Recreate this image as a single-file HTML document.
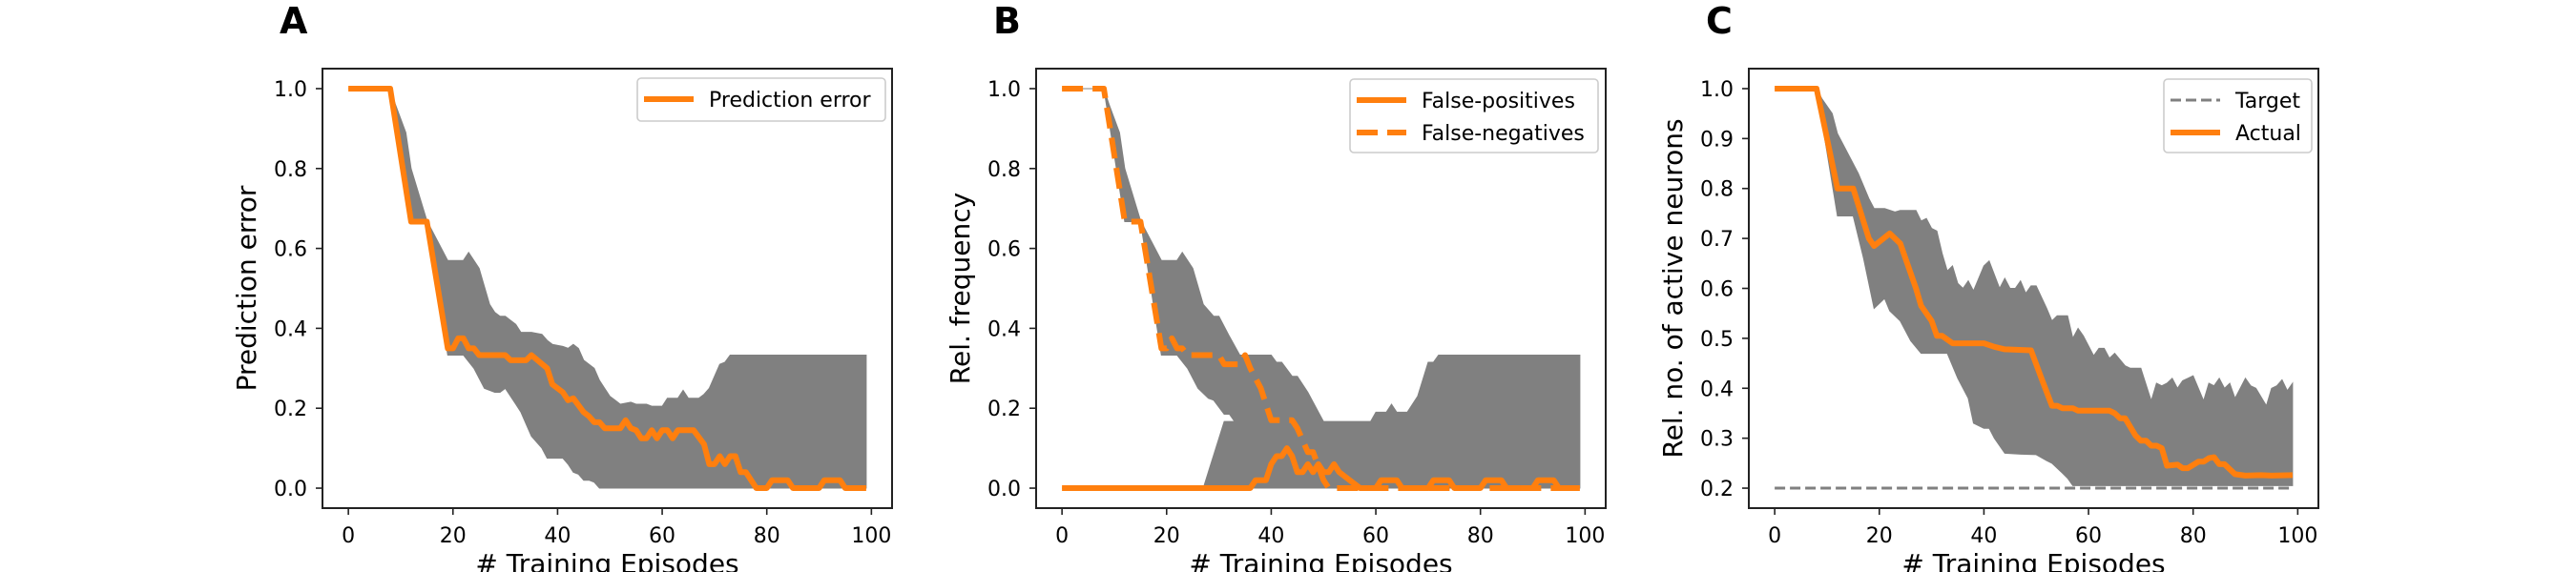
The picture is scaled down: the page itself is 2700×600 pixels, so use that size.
<!DOCTYPE html>
<html><head><meta charset="utf-8"><style>
html,body{margin:0;padding:0;background:#fff}
svg{display:block}
text{font-family:"DejaVu Sans","Liberation Sans",sans-serif;fill:#000}
</style></head><body>
<svg id="fig" width="2700" height="600" viewBox="0 0 2700 600" xmlns="http://www.w3.org/2000/svg"></svg>
<script>
// ---------- Panel A data ----------
const aMeanX=[0,8,12,15,19,20,21,22,23,24,25,30,31,34,35,38,39,41,42,43,45,46,47,48,49,52,53,54,55,56,57,58,59,60,61,62,63,66,68,69,70,71,72,73,74,75,76,78,80,81,84,85,90,91,94,95,99];
const aMeanY=[1,1,0.667,0.667,0.35,0.35,0.375,0.375,0.35,0.35,0.333,0.333,0.32,0.32,0.333,0.3,0.26,0.24,0.22,0.225,0.19,0.18,0.165,0.165,0.15,0.15,0.17,0.15,0.145,0.125,0.125,0.145,0.125,0.145,0.145,0.125,0.145,0.145,0.11,0.06,0.06,0.08,0.06,0.08,0.08,0.04,0.04,0,0,0.02,0.02,0,0,0.02,0.02,0,0];
const aHiX=[0,8,9,11,12,15,17,19,22,23,25,27,28,29,30,31,32,33,35,37,38,39,41,42,43,44,45,47,48,50,51,52,54,55,57,58,60,61,63,64,65,67,68,69,71,72,73,99];
const aHiY=[1,1,0.96,0.89,0.8,0.67,0.62,0.57,0.57,0.59,0.55,0.46,0.44,0.43,0.43,0.42,0.41,0.39,0.39,0.385,0.37,0.36,0.355,0.35,0.36,0.35,0.32,0.3,0.27,0.23,0.22,0.21,0.215,0.21,0.21,0.205,0.205,0.225,0.225,0.245,0.225,0.225,0.235,0.25,0.31,0.315,0.333,0.333];
const aLoX=[0,8,12,15,19,22,24,26,28,29,30,32,33,34,35,37,38,41,42,43,44,45,46,47,48,99];
const aLoY=[1,1,0.667,0.667,0.333,0.333,0.3,0.25,0.24,0.24,0.25,0.21,0.19,0.16,0.13,0.1,0.075,0.075,0.06,0.04,0.035,0.02,0.02,0.015,0,0];
// ---------- Panel B data ----------
const bFnX=[0,8,12,15,19,20,21,22,23,24,30,31,34,35,36,38,40,44,45,47,48,50,51,99];
const bFnY=[1,1,0.667,0.667,0.35,0.35,0.375,0.35,0.35,0.333,0.333,0.31,0.31,0.333,0.3,0.25,0.17,0.17,0.15,0.09,0.09,0.02,0,0];
const bFpX=[0,36,37,39,40,41,42,43,44,45,46,47,48,49,50,51,52,53,55,57,60,61,64,65,70,71,74,75,80,81,84,85,90,91,94,95,99];
const bFpY=[0,0,0.02,0.02,0.06,0.08,0.08,0.1,0.08,0.04,0.04,0.06,0.04,0.06,0.04,0.04,0.06,0.04,0.02,0,0,0.02,0.02,0,0,0.02,0.02,0,0,0.02,0.02,0,0,0.02,0.02,0,0];
const bFnHiX=[0,8,9,11,12,15,17,19,22,23,25,27,29,30,32,34,40,41,42,44,45,47,50,51,99];
const bFnHiY=[1,1,0.96,0.89,0.8,0.67,0.62,0.57,0.57,0.59,0.55,0.46,0.43,0.43,0.38,0.333,0.333,0.315,0.315,0.28,0.28,0.24,0.167,0,0];
const bFnLoX=[0,8,12,15,19,22,24,26,28,29,31,32,33,50,99];
const bFnLoY=[1,1,0.667,0.667,0.333,0.333,0.3,0.25,0.225,0.22,0.185,0.185,0.167,0,0];
const bFpHiX=[0,27,31,59,60,62,63,64,66,68,70,71,72,99];
const bFpHiY=[0,0,0.167,0.167,0.19,0.19,0.21,0.19,0.19,0.23,0.315,0.315,0.333,0.333];
const bFpLoX=[0,99];
const bFpLoY=[0,0];
// ---------- Panel C data ----------
const cMeanX=[0,8,12,15,18,19,22,24,26,27,28,30,31,32,34,40,42,44,49,51,53,54,55,57,58,64,65,66,67,69,70,71,72,73,74,75,77,78,79,81,82,83,84,85,86,88,90,93,95,99];
const cMeanY=[1,1,0.8,0.8,0.7,0.685,0.71,0.69,0.63,0.6,0.565,0.535,0.505,0.505,0.49,0.49,0.483,0.478,0.476,0.42,0.365,0.365,0.36,0.36,0.355,0.355,0.35,0.34,0.34,0.305,0.295,0.295,0.285,0.285,0.28,0.245,0.247,0.24,0.24,0.253,0.253,0.26,0.262,0.248,0.248,0.228,0.225,0.226,0.225,0.226];
const cHiX=[0,8,9,11,12,16,18,19,21,23,24,27,28,29,30,31,32,33,34,35,36,37,38,40,41,43,44,45,46,47,48,49,50,52,53,54,56,57,58,59,61,62,63,64,65,67,68,70,72,73,74,75,76,77,78,79,80,82,83,84,85,86,87,88,90,91,92,94,95,96,97,98,99];
const cHiY=[1,1,0.98,0.95,0.91,0.83,0.78,0.76,0.76,0.753,0.756,0.756,0.735,0.74,0.72,0.715,0.67,0.635,0.645,0.61,0.6,0.615,0.595,0.645,0.655,0.6,0.62,0.6,0.6,0.615,0.59,0.605,0.605,0.56,0.535,0.545,0.545,0.5,0.52,0.505,0.465,0.48,0.48,0.46,0.47,0.445,0.44,0.44,0.375,0.41,0.405,0.41,0.42,0.4,0.415,0.42,0.425,0.375,0.41,0.405,0.42,0.4,0.41,0.38,0.42,0.405,0.4,0.365,0.4,0.405,0.417,0.395,0.41];
const cLoX=[0,8,12,15,17,19,21,22,24,26,28,33,35,37,38,40,41,42,44,47,50,52,53,55,56,57,99];
const cLoY=[1,1,0.745,0.745,0.66,0.56,0.58,0.555,0.535,0.495,0.47,0.47,0.42,0.38,0.33,0.32,0.32,0.3,0.27,0.268,0.267,0.255,0.25,0.23,0.22,0.205,0.205];
const cTargetX=[0,99];
const cTargetY=[0.2,0.2];
// ---------- ticks ----------
const xTicks=[0,20,40,60,80,100];
const abYTicks=[0,0.2,0.4,0.6,0.8,1.0];
const abYTickLabels=["0.0","0.2","0.4","0.6","0.8","1.0"];
const cYTicks=[0.2,0.3,0.4,0.5,0.6,0.7,0.8,0.9,1.0];
const cYTickLabels=["0.2","0.3","0.4","0.5","0.6","0.7","0.8","0.9","1.0"];

const NS="http://www.w3.org/2000/svg";
const svg=document.getElementById('fig');
const ORANGE="#ff7f0e", GRAY="#808080";
function mk(tag,parent){const e=document.createElementNS(NS,tag);parent.appendChild(e);return e;}

function panel(left,letter,ylab,ymin,ymax,yt,ytl){
  const top=72,bottom=533,right=left+597;
  const xmin=-4.95,xmax=103.95;
  const g=mk('g',svg);
  
  
  const sx=v=>left+(v-xmin)/(xmax-xmin)*(right-left);
  const sy=v=>bottom-(v-ymin)/(ymax-ymin)*(bottom-top);
  const P={g,sx,sy,left,right,top,bottom};
  // letter
  const t=mk('text',g);t.textContent=letter;
  
  
  t.setAttribute('x',left-45);t.setAttribute('y',35);t.setAttribute('font-size','38');t.setAttribute('font-weight','bold');
  // clip
  const cp=mk('clipPath',g);cp.setAttribute('id','clip'+letter);
  const cr=mk('rect',cp);cr.setAttribute('x',left);cr.setAttribute('y',top);cr.setAttribute('width',right-left);cr.setAttribute('height',bottom-top);
  const plot=mk('g',g);plot.setAttribute('clip-path','url(#clip'+letter+')');
  
  
  P.plot=plot;
  // x ticks
  xTicks.forEach(v=>{
    const l=mk('line',g);
    
    
    l.setAttribute('x1',sx(v));l.setAttribute('x2',sx(v));l.setAttribute('y1',bottom);l.setAttribute('y2',bottom+7);l.setAttribute('stroke','#222');l.setAttribute('stroke-width','1.6');
    const tx=mk('text',g);tx.textContent=String(v);
    
    
    tx.setAttribute('x',sx(v));tx.setAttribute('y',569);tx.setAttribute('font-size','22');tx.setAttribute('text-anchor','middle');
  });
  yt.forEach((v,i)=>{
    const l=mk('line',g);
    
    
    l.setAttribute('x1',left-7);l.setAttribute('x2',left);l.setAttribute('y1',sy(v));l.setAttribute('y2',sy(v));l.setAttribute('stroke','#222');l.setAttribute('stroke-width','1.6');
    const tx=mk('text',g);tx.textContent=ytl[i];
    
    
    tx.setAttribute('x',left-16);tx.setAttribute('y',sy(v)+8);tx.setAttribute('font-size','22');tx.setAttribute('text-anchor','end');
  });
  const xl=mk('text',g);xl.textContent='# Training Episodes';
  
  
  xl.setAttribute('x',(left+right)/2);xl.setAttribute('y',601);xl.setAttribute('font-size','28');xl.setAttribute('text-anchor','middle');
  const yl=mk('text',g);yl.textContent=ylab;
  
  
  const cx=left-70,cy=(top+bottom)/2;
  yl.setAttribute('x',cx);yl.setAttribute('y',cy);yl.setAttribute('font-size','28');yl.setAttribute('text-anchor','middle');
  yl.setAttribute('transform','rotate(-90 '+cx+' '+cy+')');
  return P;
}
function frame(P){
  const r=mk('rect',P.g);
  
  
  r.setAttribute('x',P.left);r.setAttribute('y',P.top);r.setAttribute('width',P.right-P.left);r.setAttribute('height',P.bottom-P.top);
  r.setAttribute('fill','none');r.setAttribute('stroke','#222');r.setAttribute('stroke-width','2');
}
// interpolate lower bound at x
function interp(xs,ys,x){
  for(let i=0;i<xs.length-1;i++){if(x>=xs[i]&&x<=xs[i+1]){const t=(x-xs[i])/((xs[i+1]-xs[i])||1);return ys[i]+t*(ys[i+1]-ys[i]);}}
  return ys[ys.length-1];
}
function band(P,hx,hy,lx,ly,name){
  let d='';
  hx.forEach((x,i)=>{d+=(i?'L':'M')+P.sx(x).toFixed(1)+','+P.sy(hy[i]).toFixed(1);});
  for(let i=lx.length-1;i>=0;i--){d+='L'+P.sx(lx[i]).toFixed(1)+','+P.sy(ly[i]).toFixed(1);}
  d+='Z';
  const p=mk('path',P.plot);
  
  
  p.setAttribute('d',d);p.setAttribute('fill',GRAY);p.setAttribute('stroke',GRAY);p.setAttribute('stroke-width','1');
}
function line(P,xs,ys,name,color,w,dash){
  const p=mk('polyline',P.plot);
  
  
  p.setAttribute('points',xs.map((x,i)=>P.sx(x).toFixed(1)+','+P.sy(ys[i]).toFixed(1)).join(' '));
  p.setAttribute('fill','none');p.setAttribute('stroke',color);p.setAttribute('stroke-width',w);
  p.setAttribute('stroke-linejoin','round');
  if(dash)p.setAttribute('stroke-dasharray',dash);
}
function legend(x,y,w,entries){
  const g=mk('g',svg);
  
  
  const h=entries.length===1?45:77;
  const r=mk('rect',g);r.setAttribute('x',x);r.setAttribute('y',y);r.setAttribute('width',w);r.setAttribute('height',h);r.setAttribute('rx','4');
  r.setAttribute('fill','#fff');r.setAttribute('fill-opacity','0.8');r.setAttribute('stroke','#ccc');r.setAttribute('stroke-width','1.6');
  entries.forEach((e,i)=>{
    const cy=y+22+i*34;
    const eg=mk('g',g);
    
    
    const l=mk('line',eg);l.setAttribute('x1',x+7);l.setAttribute('x2',x+59);l.setAttribute('y1',cy);l.setAttribute('y2',cy);
    l.setAttribute('stroke',e.c);l.setAttribute('stroke-width',e.w);if(e.d)l.setAttribute('stroke-dasharray',e.d);
    const t=mk('text',eg);t.textContent=e.t;t.setAttribute('x',x+75);t.setAttribute('y',cy+8);t.setAttribute('font-size','22');
  });
}

// Panel A
const A=panel(338,'A','Prediction error',-0.05,1.05,abYTicks,abYTickLabels);
band(A,aHiX,aHiY,aLoX,aLoY,'error-band');
line(A,aMeanX,aMeanY,'prediction-error-line',ORANGE,6);
frame(A);
legend(668,82,260,[{t:'Prediction error',c:ORANGE,w:6}]);

// Panel B
const B=panel(1086,'B','Rel. frequency',-0.05,1.05,abYTicks,abYTickLabels);
band(B,bFnHiX,bFnHiY,bFnLoX,bFnLoY,'false-negatives-band');
band(B,bFpHiX,bFpHiY,bFpLoX,bFpLoY,'false-positives-band');
line(B,bFpX,bFpY,'false-positives-line',ORANGE,6);
line(B,bFnX,bFnY,'false-negatives-line',ORANGE,6,'22,10');
frame(B);
legend(1415,83,260,[{t:'False-positives',c:ORANGE,w:6},{t:'False-negatives',c:ORANGE,w:6,d:'22,10'}]);

// Panel C
const C=panel(1833,'C','Rel. no. of active neurons',0.16,1.04,cYTicks,cYTickLabels);
band(C,cHiX,cHiY,cLoX,cLoY,'active-neurons-band');
line(C,cTargetX,cTargetY,'target-line',GRAY,3,'11,5');
line(C,cMeanX,cMeanY,'actual-line',ORANGE,6);
frame(C);
legend(2268,83,155,[{t:'Target',c:GRAY,w:3,d:'11,5'},{t:'Actual',c:ORANGE,w:6}]);
</script>
</body></html>
